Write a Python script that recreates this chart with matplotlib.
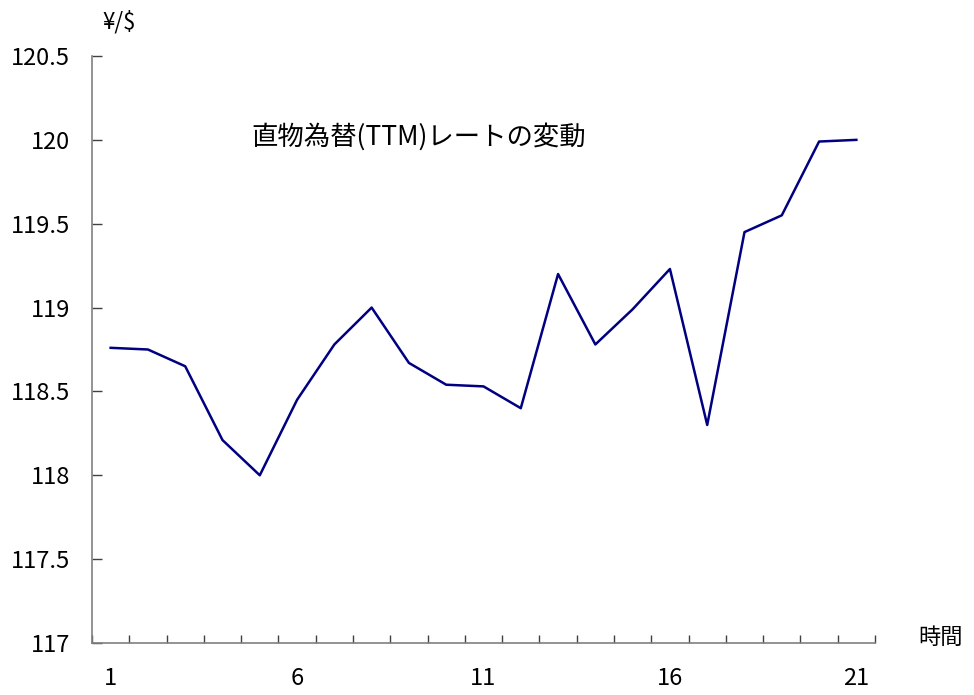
import matplotlib
matplotlib.use('Agg')
import matplotlib.pyplot as plt
import numpy as np

plt.rcParams['font.family'] = ['Noto Sans CJK JP', 'DejaVu Sans']

periods = np.arange(1, 22)
rates = [118.76, 118.75, 118.65, 118.21, 118.00, 118.45, 118.78, 119.00,
         118.67, 118.54, 118.53, 118.40, 119.20, 118.78, 118.99, 119.23,
         118.30, 119.45, 119.55, 119.99, 120.00]
yticks = [117, 117.5, 118, 118.5, 119, 119.5, 120, 120.5]
ytick_labels = ['117', '117.5', '118', '118.5', '119', '119.5', '120', '120.5']
xtick_labels = ['1', '6', '11', '16', '21']

fig = plt.figure(figsize=(9.74, 6.95), dpi=100)
ax = fig.add_axes([92/974, 1-643/695, (875-92)/974, (643-56)/695])

ax.plot(periods, rates, color='#000080', lw=1.8)

ax.set_xlim(0.5, 21.5)
ax.set_ylim(117, 120.5)

# category-style axis: tick marks between points, labels on points
ax.set_xticks(np.arange(0.5, 22, 1))
ax.set_xticklabels([])
ax.set_xticks([1, 6, 11, 16, 21], minor=True)
ax.set_xticklabels(xtick_labels, minor=True, fontsize=17)
ax.tick_params(axis='x', which='major', direction='in', length=6, width=1, color='#404040')
ax.tick_params(axis='x', which='minor', length=0, pad=17)

ax.set_yticks(yticks)
ax.set_yticklabels(ytick_labels, fontsize=17)
ax.tick_params(axis='y', direction='in', length=7, width=1, color='#404040', pad=16)

for s in ['top', 'right']:
    ax.spines[s].set_visible(False)
for s in ['left', 'bottom']:
    ax.spines[s].set_color('#808080')
    ax.spines[s].set_linewidth(1.2)

fig.text(119/974, 1-22/695, '¥/$', fontsize=16, ha='center', va='center')
fig.text(941/974, 1-637/695, '時間', fontsize=16, ha='center', va='center')
fig.text(419/974, 1-137/695, '直物為替(TTM)レートの変動', fontsize=19, ha='center', va='center')

plt.savefig('out.png', dpi=100)
